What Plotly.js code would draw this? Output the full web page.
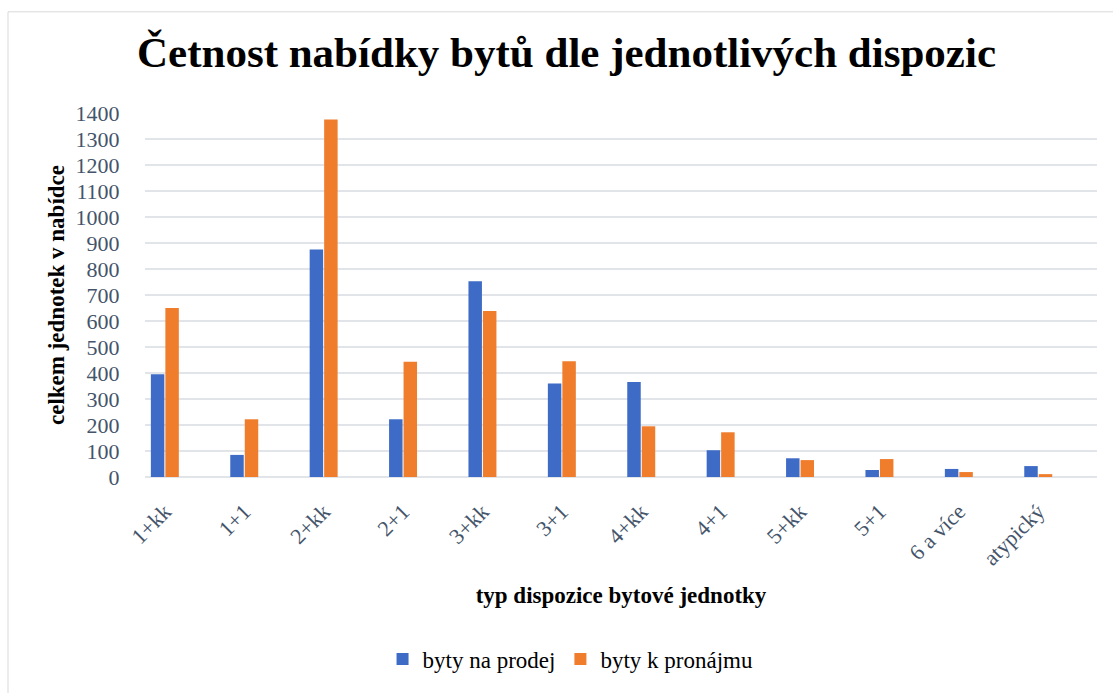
<!DOCTYPE html>
<html>
<head>
<meta charset="utf-8">
<script src="https://cdn.plot.ly/plotly-3.0.1.min.js"></script>
<style>
html,body{margin:0;padding:0;background:#fff;}
#chart{width:1113px;height:693px;}
</style>
</head>
<body>
<div id="chart"></div>
<script>
const categories = ["1+kk","1+1","2+kk","2+1","3+kk","3+1","4+kk","4+1","5+kk","5+1","6 a více","atypický"];
const prodej = [395, 85, 875, 222, 753, 360, 365, 103, 72, 27, 31, 42];
const pronajem = [650, 222, 1375, 443, 638, 445, 195, 172, 65, 69, 19, 11];
const seriesNames = ["byty na prodej", "byty k pronájmu"];
const yTicks = [0,100,200,300,400,500,600,700,800,900,1000,1100,1200,1300,1400];

const serif = "'Liberation Serif', 'Times New Roman', serif";

const traces = [
  {type:'bar', name:seriesNames[0], x:categories, y:prodej, marker:{color:'#3d6bc6'}, hoverinfo:'x+y'},
  {type:'bar', name:seriesNames[1], x:categories, y:pronajem, marker:{color:'#ef7d2c'}, hoverinfo:'x+y'}
];

const layout = {
  width:1113, height:693,
  paper_bgcolor:'#ffffff', plot_bgcolor:'#ffffff',
  margin:{l:145, r:16, t:113, b:213},
  barmode:'group', bargap:0.635, bargroupgap:0.07,
  title:{text:'Četnost nabídky bytů dle jednotlivých dispozic', font:{family:serif, size:43, color:'#000', weight:'bold'}, x:0.509, xanchor:'center', y:0.925, yanchor:'middle'},
  xaxis:{
    type:'category', range:[-0.25, 11.74],
    tickangle:-45, tickfont:{family:serif, size:22, color:'#44546a'},
    ticks:'outside', ticklen:12, tickcolor:'rgba(0,0,0,0)',
    showgrid:false, showline:false, zeroline:false,
    title:{text:'typ dispozice bytové jednotky', font:{family:serif, size:23, color:'#000', weight:'bold'}, standoff:17}
  },
  yaxis:{
    range:[0,1400], tickvals:yTicks,
    tickfont:{family:serif, size:22, color:'#44546a'},
    ticks:'outside', ticklen:20, tickcolor:'rgba(0,0,0,0)',
    showgrid:true, gridcolor:'#e1e5ea', gridwidth:2,
    zeroline:true, zerolinecolor:'#e1e5ea', zerolinewidth:2, showline:false,
    title:{text:'celkem jednotek v nabídce', font:{family:serif, size:23, color:'#000', weight:'bold'}, standoff:4}
  },
  legend:{orientation:'h', x:0.447, xanchor:'center', y:-0.5, yanchor:'middle', font:{family:serif, size:23, color:'#000'}, itemwidth:30},
  shapes:[{type:'rect', xref:'paper', yref:'paper', x0:-0.1439, x1:1.03, y0:-0.62, y1:1.278, line:{color:'#d9d9d9', width:1}, fillcolor:'rgba(0,0,0,0)', layer:'below'}],
  showlegend:true
};

Plotly.newPlot('chart', traces, layout, {displayModeBar:false, staticPlot:true});
</script>
</body>
</html>
